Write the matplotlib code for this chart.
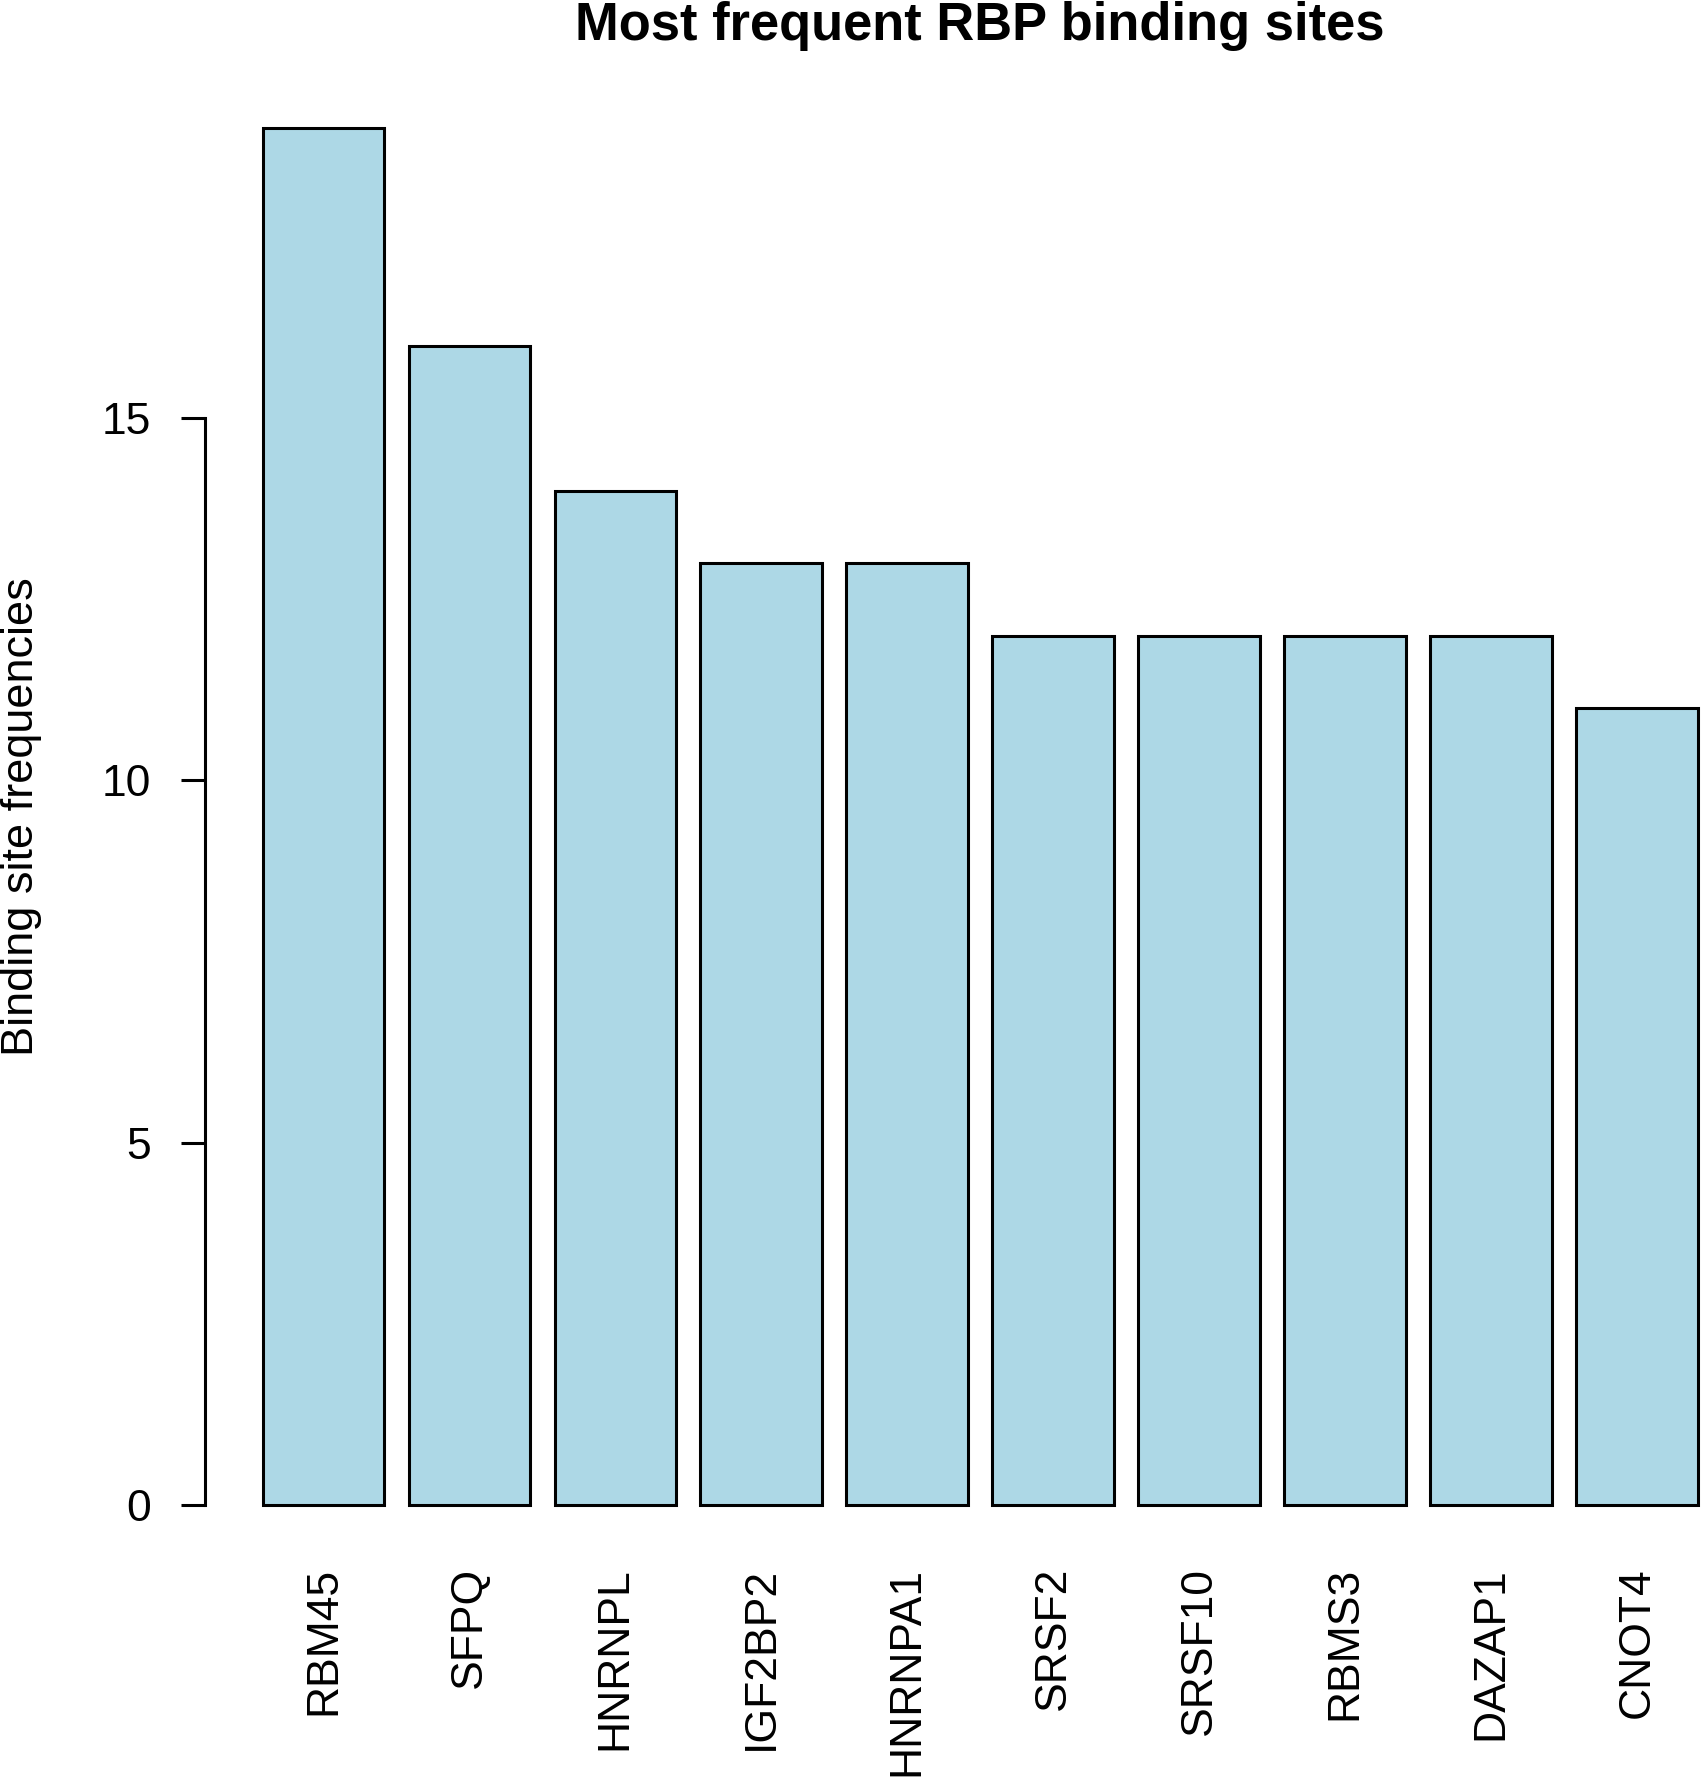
import matplotlib
matplotlib.use("Agg")
import matplotlib.pyplot as plt
import numpy as np

# RBP names and binding site counts
rbp_names = ["RBM45", "SFPQ", "HNRNPL", "IGF2BP2", "HNRNPA1",
             "SRSF2", "SRSF10", "RBMS3", "DAZAP1", "CNOT4"]
site_counts = [19, 16, 14, 13, 13, 12, 12, 12, 12, 11]
y_ticks = [0, 5, 10, 15]

plt.rcParams['font.family'] = ['Liberation Sans', 'DejaVu Sans']

W, H = 1701, 1779
fig = plt.figure(figsize=(W / 100, H / 100), dpi=100)

# plot region like R's barplot (extends past the right edge, as in the source)
left, right = 205.3 / W, 1755 / W
bottom, top = 1 - 1560 / H, 1 - 73.4 / H
ax = fig.add_axes((left, bottom, right - left, top - bottom))

# R barplot geometry: width 1, space 0.2
n = len(site_counts)
lefts = 0.2 + 1.2 * np.arange(n)
centers = lefts + 0.5
ax.bar(lefts, site_counts, width=1.0, align="edge",
       color="#ADD8E6", edgecolor="black", linewidth=2.2)

span = lefts[-1] + 1 - lefts[0]
ax.set_xlim(lefts[0] - 0.04 * span, lefts[-1] + 1 + 0.04 * span)
ymax = max(site_counts)
ax.set_ylim(-0.04 * ymax, ymax * 1.04)

for side in ["top", "right", "bottom"]:
    ax.spines[side].set_visible(False)
ax.spines["left"].set_bounds(y_ticks[0], y_ticks[-1])
ax.spines["left"].set_linewidth(2.2)

ax.set_yticks(y_ticks)
ax.set_yticklabels([str(t) for t in y_ticks])
ax.tick_params(axis="y", length=17.3, width=2.2, pad=22, labelsize=32)

ax.set_xticks(centers)
ax.set_xticklabels(rbp_names, rotation=90)
ax.tick_params(axis="x", length=0, pad=5, labelsize=32)

fig.text((left + right) / 2, 1 - 40 / H, "Most frequent RBP binding sites",
         ha="center", va="baseline", fontsize=37.8, fontweight="bold")
fig.text(22 / W, (bottom + top) / 2, "Binding site frequencies",
         rotation=90, ha="center", va="center", fontsize=32.5)

fig.savefig("out.png", dpi=100)
